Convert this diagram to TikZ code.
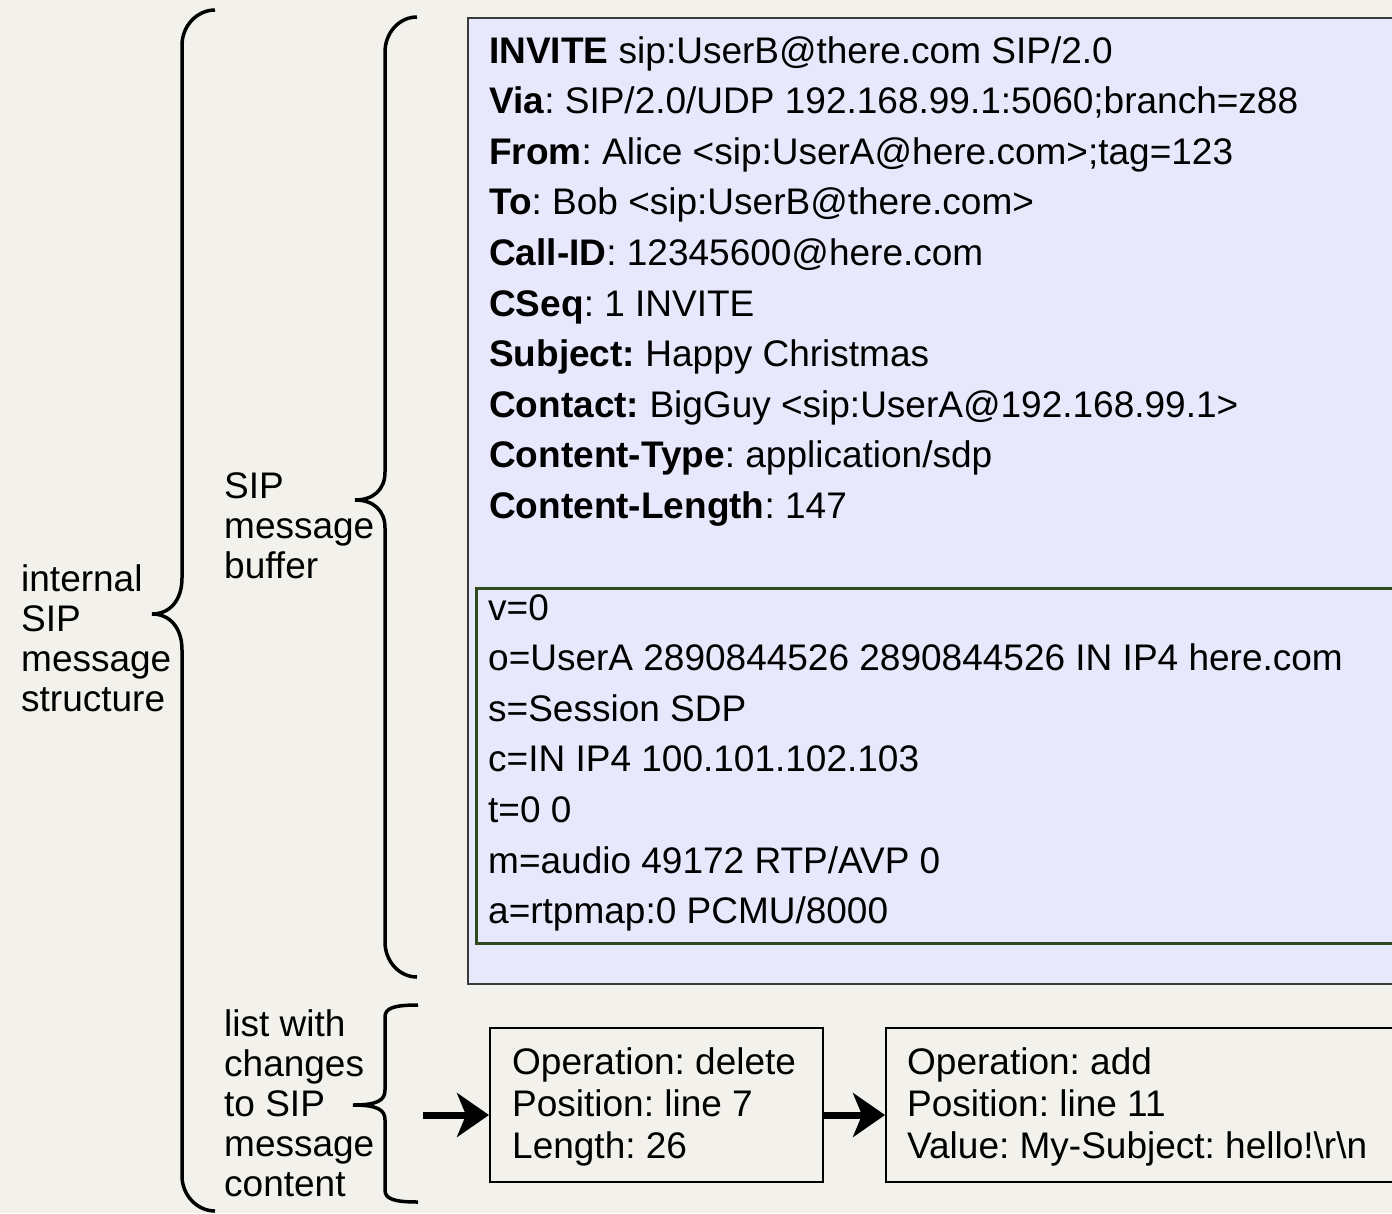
\documentclass[tikz,border=0pt]{standalone}
\usepackage{fontspec}
\setmainfont{Liberation Sans}
\usetikzlibrary{arrows.meta}

\definecolor{paper}{HTML}{F3F1EC}
\definecolor{bufferfill}{HTML}{E8E8FD}
\definecolor{bufferline}{HTML}{3A3A3A}
\definecolor{sdpline}{HTML}{2F4A1C}

% a block of left-aligned lines with a fixed baseline distance;
% its reference point is the baseline of the first line
\newcommand\textlines[2]{\vtop{\baselineskip=#1\relax\lineskiplimit=-100pt\relax
  \ialign{##\hfil\cr#2\crcr}}}

\tikzset{
  txt/.style={anchor=base west, inner sep=0pt,
    font=\fontsize{37}{40}\selectfont\frenchspacing},
  bufferbox/.style={draw=bufferline, line width=2pt, fill=bufferfill,
    anchor=north west, inner sep=0pt},
  sdpbox/.style={draw=sdpline, line width=3.2pt, anchor=north west, inner sep=0pt},
  opbox/.style={draw=black, line width=2.4pt, anchor=north west, inner sep=0pt},
  brace/.style={line width=3.5pt, black},
  flow/.style={line width=7pt, -{Stealth[length=32pt,width=44pt,inset=9pt]}},
}

\begin{document}
\begin{tikzpicture}[x=1pt, y=-1pt]
\useasboundingbox (0,0) rectangle (1392,1213);
\clip (0,0) rectangle (1392,1213);
\fill[paper] (0,0) rectangle (1392,1213);

% message buffer and its SDP body
\node[bufferbox, minimum width=1000pt, minimum height=966pt] (buffer) at (467,17) {};
\node[sdpbox, minimum width=1000pt, minimum height=355pt] (sdp) at (475,587) {};

\node[txt] (headers) at (489,63) {\textlines{50.6pt}{%
  \textbf{INVITE} sip:UserB@there.com SIP/2.0\cr
  \textbf{Via}: SIP/2.0/UDP 192.168.99.1:5060;branch=z88\cr
  \textbf{From}: Alice <sip:UserA@here.com>;tag=123\cr
  \textbf{To}: Bob <sip:UserB@there.com>\cr
  \textbf{Call-ID}: 12345600@here.com\cr
  \textbf{CSeq}: 1 INVITE\cr
  \textbf{Subject:} Happy Christmas\cr
  \textbf{Contact:} BigGuy <sip:UserA@192.168.99.1>\cr
  \textbf{Content-Type}: application/sdp\cr
  \textbf{Content-Length}: 147}};

\node[txt] (body) at (488,620) {\textlines{50.6pt}{%
  v=0\cr
  o=UserA 2890844526 2890844526 IN IP4 here.com\cr
  s=Session SDP\cr
  c=IN IP4 100.101.102.103\cr
  t=0 0\cr
  m=audio 49172 RTP/AVP 0\cr
  a=rtpmap:0 PCMU/8000}};

% list of pending changes
\node[opbox, minimum width=333pt, minimum height=154pt] (del) at (489,1027) {};
\node[opbox, minimum width=600pt, minimum height=154pt] (add) at (885,1027) {};
\node[txt] (deltext) at (512,1074) {\textlines{42pt}{%
  Operation: delete\cr Position: line 7\cr Length: 26}};
\node[txt] (addtext) at (907,1074) {\textlines{42pt}{%
  Operation: add\cr Position: line 11\cr
  Value: My-Subject: hello!\textbackslash r\textbackslash n}};

\coordinate (head) at (423,1115);
\draw[flow] (head) -- (head -| del.west);
\draw[flow] (head -| del.east) -- (head -| add.west);

% left-hand labels
\node[txt] (structlabel) at (21,591) {\textlines{40pt}{%
  internal\cr SIP\cr message\cr structure}};
\node[txt] (buflabel) at (224,498) {\textlines{40pt}{%
  SIP\cr message\cr buffer}};
\node[txt] (listlabel) at (224,1036) {\textlines{40pt}{%
  list with\cr changes\cr to SIP\cr message\cr content}};

% braces
\draw[brace] (215,10) .. controls (197,10) and (182,26) .. (182,45)
  -- (182,578) .. controls (182,600) and (170,614) .. (152,614)
  .. controls (170,614) and (182,628) .. (182,650)
  -- (182,1176) .. controls (182,1195) and (197,1211) .. (215,1211);

\draw[brace] (417,17) .. controls (399,17) and (385,33) .. (385,52)
  -- (385,472) .. controls (385,490) and (373,500) .. (355,500)
  .. controls (373,500) and (385,510) .. (385,528)
  -- (385,942) .. controls (385,961) and (399,977) .. (417,977);

\draw[brace] (418,1005) .. controls (394,1005) and (385,1008) .. (385,1017)
  -- (385,1090) .. controls (385,1100) and (378,1105) .. (353,1105)
  .. controls (378,1105) and (385,1110) .. (385,1120)
  -- (385,1190) .. controls (385,1199) and (394,1202) .. (418,1202);
\end{tikzpicture}
\end{document}
